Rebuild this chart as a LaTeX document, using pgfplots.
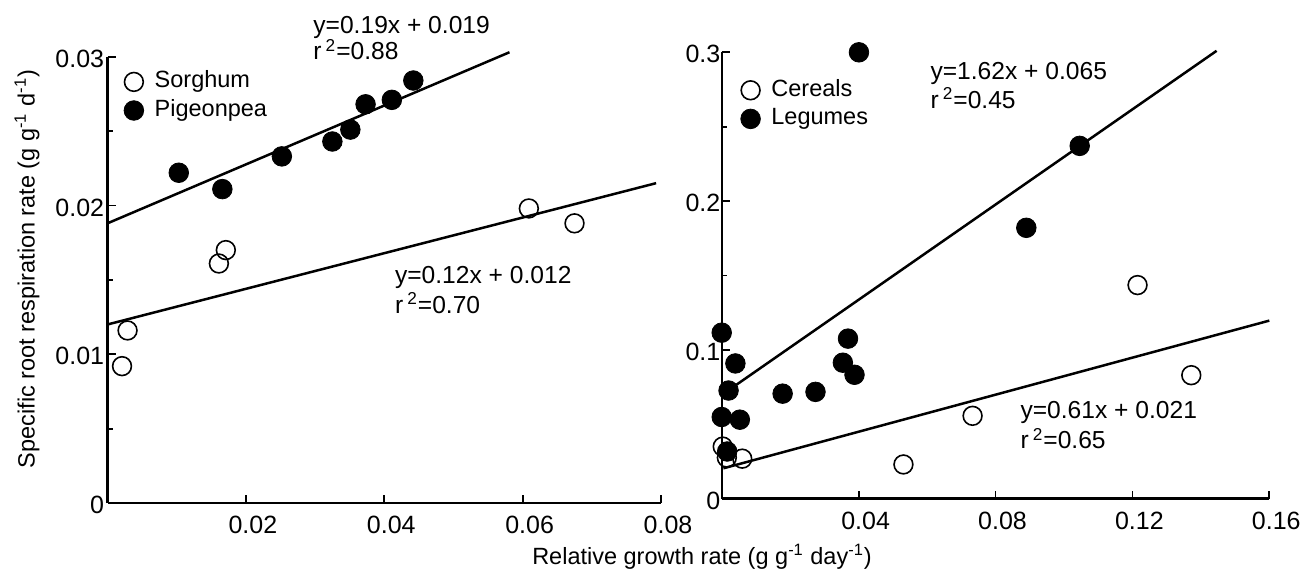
\documentclass[border=0pt]{standalone}
\usepackage{fontspec}
\setmainfont{Liberation Sans}
\usepackage{pgfplots}
\pgfplotsset{compat=1.18}
\tikzset{ann/.style={anchor=base west, inner sep=0pt, font=\fontsize{12.3}{14}\selectfont}}
\pgfplotsset{
 legmark/.style={legend image code/.code={\draw[##1] plot coordinates {(0pt,0pt)};}},
 panel/.style={
  scale only axis, clip=false,
  axis x line*=bottom, axis y line*=left,
  axis line style={-, line width=1.1pt},
  tick align=inside,
  major tick length=4pt, minor tick length=2.5pt,
  tick style={black, line width=0.9pt},
  scaled ticks=false,
  ticklabel style={font=\fontsize{12.5}{14}\selectfont},
  /pgf/number format/assume math mode=true,
  xticklabel style={yshift=-3pt, xshift=3.5pt},
  legend cell align=left,
  legend style={draw=none, fill=none, inner sep=0pt,
    font=\fontsize{11.75}{14}\selectfont, column sep=5.5pt, row sep=2.3pt,
    nodes={inner sep=0pt, text height=9pt, text depth=3pt}},
 },
 opn/.style={only marks, mark=o, mark size=4.7pt, mark options={line width=0.8pt}, legmark},
 fld/.style={only marks, mark=*, mark size=4.9pt, mark options={fill=black}, legmark},
 fit/.style={no marks, line width=1.25pt, forget plot},
}
\begin{document}
\begin{tikzpicture}[font=\fontsize{11.75}{14}\selectfont]
\path[use as bounding box] (0,0) rectangle (652.5pt,287pt);
% ---------------- left panel ----------------
\begin{axis}[panel,
  at={(53.75pt,35.5pt)}, anchor=south west,
  width=276.75pt, height=223.15pt,
  xmin=0, xmax=0.08, ymin=0, ymax=0.03,
  xtick={0.02,0.04,0.06,0.08}, xticklabels={0.02,0.04,0.06,0.08},
  ytick={0,0.01,0.02,0.03}, yticklabels={0,0.01,0.02,0.03},
  minor ytick={0.005,0.015,0.025},
  yticklabel style={inner xsep=1.5pt, yshift=-1pt},
  legend style={at={(axis cs:0.00234,0.02914)}, anchor=north west},
]
\addplot[opn] coordinates {
 (0.0021,0.0092) (0.0029,0.0116) (0.0161,0.0161) (0.0171,0.0170)
 (0.0609,0.0198) (0.0675,0.0188)};
\addlegendentry{Sorghum}
\addplot[fld] coordinates {
 (0.0103,0.0222) (0.0166,0.0211) (0.0252,0.0233) (0.0325,0.0243)
 (0.0351,0.0251) (0.0373,0.0268) (0.0411,0.0271) (0.0442,0.0284)};
\addlegendentry{Pigeonpea}
\addplot[fit] coordinates {(0,0.0188) (0.0581,0.0303)};
\addplot[fit] coordinates {(0,0.0120) (0.0793,0.0215)};
\node[ann] at (axis cs:0.0297,0.03159) {y=0.19x + 0.019};
\node[ann] at (axis cs:0.0297,0.02979) {r\,\textsuperscript{2}=0.88};
\node[ann] at (axis cs:0.0415,0.01477) {y=0.12x + 0.012};
\node[ann] at (axis cs:0.0415,0.01276) {r\,\textsuperscript{2}=0.70};
\end{axis}
% ---------------- right panel ----------------
\begin{axis}[panel,
  at={(360.85pt,37.75pt)}, anchor=south west,
  width=273.8pt, height=223.1pt,
  xmin=0, xmax=0.16, ymin=0, ymax=0.3,
  xtick={0.04,0.08,0.12,0.16}, xticklabels={0.04,0.08,0.12,0.16},
  ytick={0,0.1,0.2,0.3}, yticklabels={0,0.1,0.2,0.3},
  minor ytick={0.05,0.15,0.25},
  yticklabel style={inner xsep=0.5pt, yshift=-1pt},
  legend style={at={(axis cs:0.00546,0.2828)}, anchor=north west},
]
\addplot[opn] coordinates {
 (0.0003,0.0349) (0.0015,0.0275) (0.0060,0.0268) (0.0531,0.0229)
 (0.0733,0.0556) (0.1215,0.1435) (0.1372,0.0829)};
\addlegendentry{Cereals}
\addplot[fld] coordinates {
 (0.0000,0.1115) (0.0040,0.0908) (0.0020,0.0726) (0.0000,0.0548)
 (0.0053,0.0530) (0.0016,0.0316) (0.0178,0.0705) (0.0274,0.0717)
 (0.0354,0.0913) (0.0369,0.1075) (0.0388,0.0832) (0.0401,0.3000)
 (0.0890,0.1820) (0.1046,0.2371)};
\addlegendentry{Legumes}
\addplot[fit] coordinates {(0.0015,0.072) (0.1446,0.301)};
\addplot[fit] coordinates {(0.0005,0.0203) (0.1600,0.1196)};
\node[ann] at (axis cs:0.0609,0.2814) {y=1.62x + 0.065};
\node[ann] at (axis cs:0.0609,0.2624) {r\,\textsuperscript{2}=0.45};
\node[ann] at (axis cs:0.0872,0.0539) {y=0.61x + 0.021};
\node[ann] at (axis cs:0.0872,0.0333) {r\,\textsuperscript{2}=0.65};
\end{axis}
% ---------------- shared labels ----------------
\node[rotate=90] at (13.5pt,152.5pt)
  {Specific root respiration rate (g g\textsuperscript{-1} d\textsuperscript{-1})};
\node at (351pt,8.5pt)
  {Relative growth rate (g g\textsuperscript{-1} day\textsuperscript{-1})};
\end{tikzpicture}
\end{document}
